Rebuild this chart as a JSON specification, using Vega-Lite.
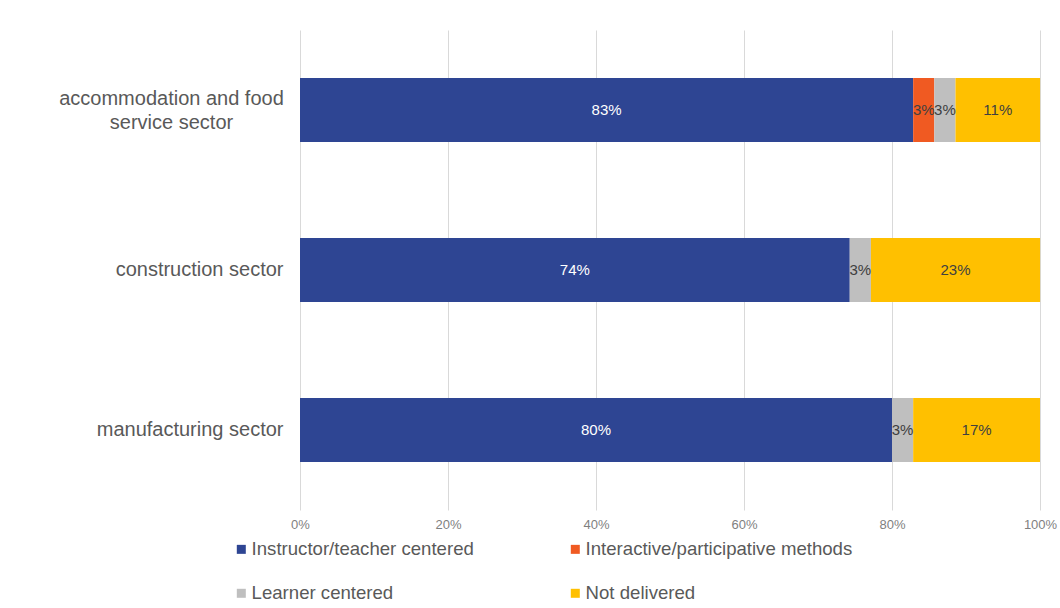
{
  "$schema": "https://vega.github.io/schema/vega-lite/v6.json",
  "width": 740,
  "height": 480,
  "autosize": "none",
  "padding": {"left": 300, "top": 30, "right": 20, "bottom": 98},
  "background": "white",
  "config": {
    "view": {"stroke": null},
    "font": "Liberation Sans"
  },
  "data": {
    "values": [
      {"sector": "accommodation and food service sector", "method": "Instructor/teacher centered", "value": 0.8286, "order": 1},
      {"sector": "accommodation and food service sector", "method": "Interactive/participative methods", "value": 0.0286, "order": 2},
      {"sector": "accommodation and food service sector", "method": "Learner centered", "value": 0.0286, "order": 3},
      {"sector": "accommodation and food service sector", "method": "Not delivered", "value": 0.1143, "order": 4},
      {"sector": "construction sector", "method": "Instructor/teacher centered", "value": 0.7429, "order": 1},
      {"sector": "construction sector", "method": "Learner centered", "value": 0.0286, "order": 3},
      {"sector": "construction sector", "method": "Not delivered", "value": 0.2286, "order": 4},
      {"sector": "manufacturing sector", "method": "Instructor/teacher centered", "value": 0.8, "order": 1},
      {"sector": "manufacturing sector", "method": "Learner centered", "value": 0.0286, "order": 3},
      {"sector": "manufacturing sector", "method": "Not delivered", "value": 0.1714, "order": 4}
    ]
  },
  "transform": [
    {"stack": "value", "groupby": ["sector"], "sort": [{"field": "order", "order": "ascending"}], "as": ["v0", "v1"]},
    {"calculate": "(datum.v0 + datum.v1) / 2", "as": "mid"}
  ],
  "encoding": {
    "y": {
      "field": "sector",
      "type": "nominal",
      "sort": null,
      "title": null,
      "scale": {"paddingInner": 0.6, "paddingOuter": 0.3},
      "axis": {
        "domain": false,
        "ticks": false,
        "labelFontSize": 20,
        "labelColor": "#595959",
        "labelLimit": 400,
        "labelLineHeight": 24,
        "labelAlign": {"condition": {"test": "datum.value == 'accommodation and food service sector'", "value": "center"}, "value": "right"},
        "labelPadding": {"condition": {"test": "datum.value == 'accommodation and food service sector'", "value": 129}, "value": 17},
        "labelOffset": {"condition": {"test": "datum.value == 'accommodation and food service sector'", "value": -11}, "value": 0},
        "labelExpr": "datum.value == 'accommodation and food service sector' ? ['accommodation and food', 'service sector'] : datum.value"
      }
    }
  },
  "layer": [
    {
      "mark": {"type": "bar"},
      "encoding": {
        "x": {
          "field": "v0",
          "type": "quantitative",
          "scale": {"domain": [0, 1], "nice": false},
          "title": null,
          "axis": {
            "format": ".0%",
            "values": [0, 0.2, 0.4, 0.6, 0.8, 1],
            "domain": false,
            "ticks": false,
            "grid": true,
            "gridColor": "#d9d9d9",
            "gridWidth": 1,
            "labelFlush": false,
            "labelFontSize": 13,
            "labelColor": "#7f7f7f",
            "labelPadding": 8
          }
        },
        "x2": {"field": "v1"},
        "color": {
          "field": "method",
          "type": "nominal",
          "scale": {
            "domain": ["Instructor/teacher centered", "Interactive/participative methods", "Learner centered", "Not delivered"],
            "range": ["#2e4593", "#f05a22", "#bfbfbf", "#ffc000"]
          },
          "legend": {
            "title": null,
            "orient": "none",
            "legendX": -68,
            "legendY": 510,
            "columns": 2,
            "direction": "horizontal",
            "symbolType": "square",
            "symbolSize": 81,
            "symbolStrokeWidth": 0,
            "labelFontSize": 18.6,
            "labelColor": "#595959",
            "labelOffset": 1,
            "labelLimit": 400,
            "rowPadding": 25,
            "columnPadding": 92
          }
        }
      }
    },
    {
      "mark": {"type": "text", "fontSize": 15, "baseline": "middle", "align": "center"},
      "encoding": {
        "x": {"field": "mid", "type": "quantitative"},
        "text": {"field": "value", "type": "quantitative", "format": ".0%"},
        "color": {
          "condition": {"test": "datum.method == 'Instructor/teacher centered'", "value": "#ffffff"},
          "value": "#404040"
        }
      }
    }
  ]
}
